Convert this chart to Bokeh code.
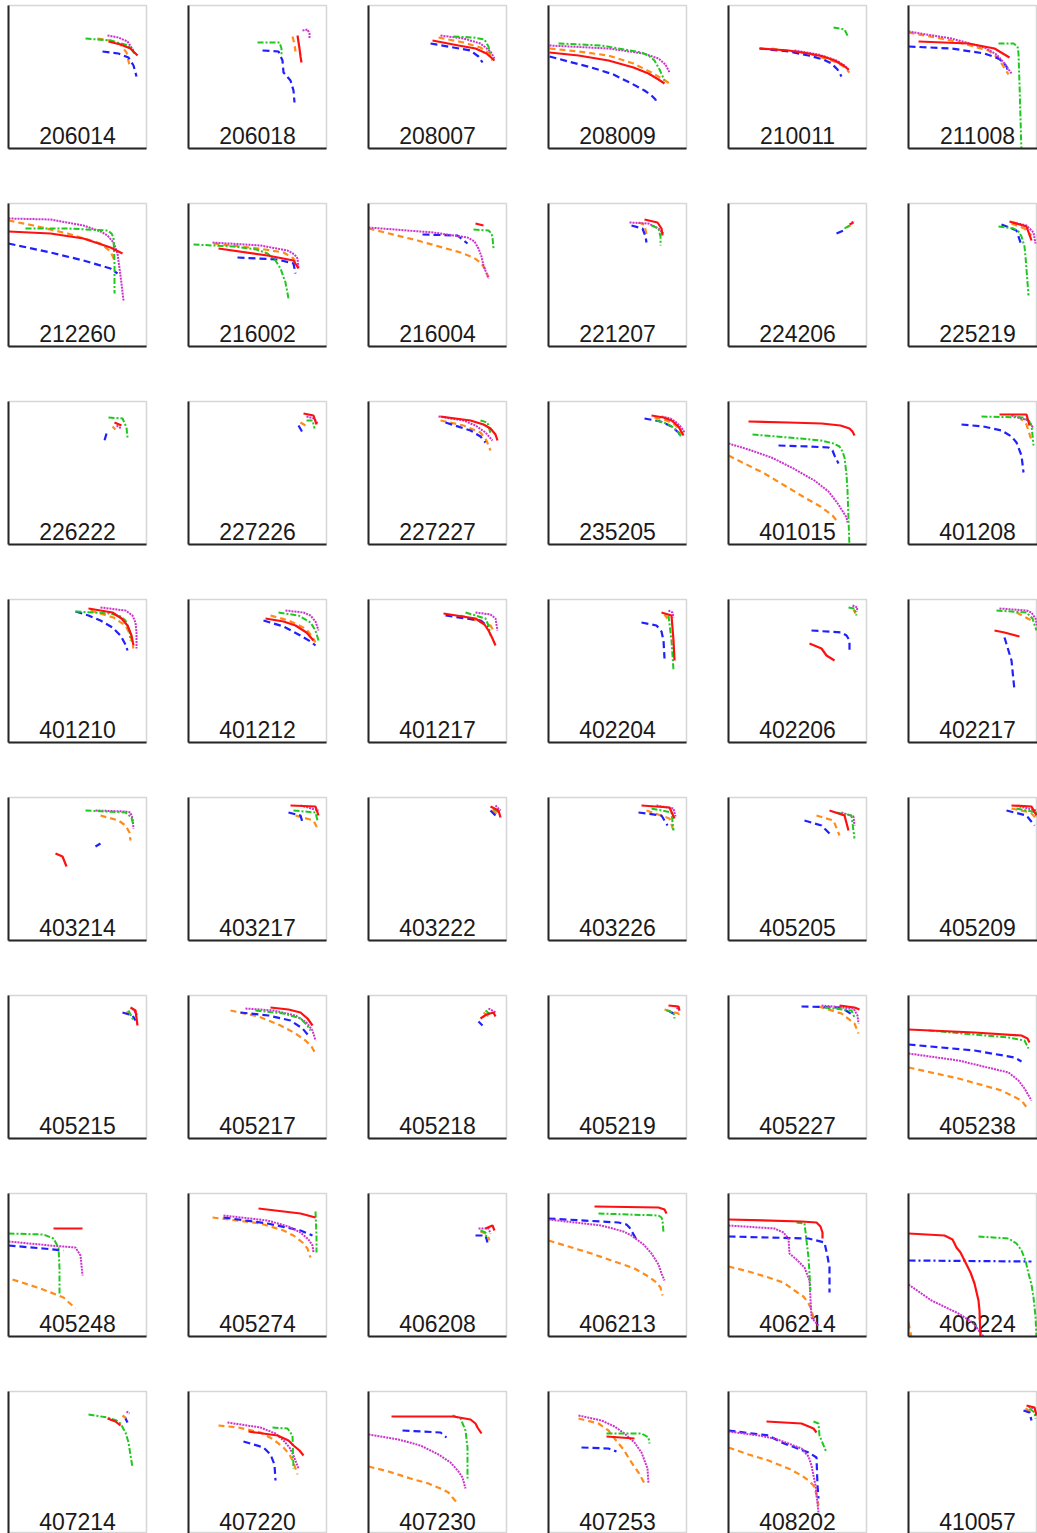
from bokeh.plotting import figure
from bokeh.layouts import gridplot
from bokeh.models import Range1d, LinearAxis, FixedTicker
from bokeh.embed import file_html
from bokeh.resources import INLINE
from bokeh.core.properties import value

PANELS = [
    "206014", "206018", "208007", "208009", "210011", "211008",
    "212260", "216002", "216004", "221207", "224206", "225219",
    "226222", "227226", "227227", "235205", "401015", "401208",
    "401210", "401212", "401217", "402204", "402206", "402217",
    "403214", "403217", "403222", "403226", "405205", "405209",
    "405215", "405217", "405218", "405219", "405227", "405238",
    "405248", "405274", "406208", "406213", "406214", "406224",
    "407214", "407220", "407230", "407253", "408202", "410057",
]

RED = {
    "206014": ([100, 112, 122, 129], [107, 104, 100, 93]),
    "206018": ([109, 111, 112, 113], [113, 100, 92, 86]),
    "208007": ([64, 90, 107, 118, 126], [108, 103, 100, 95, 88]),
    "208009": ([1, 30, 60, 85, 100, 110, 116], [96, 93, 88, 81, 75, 69, 65]),
    "210011": ([31, 60, 80, 95, 106, 115, 120], [100, 98, 95, 92, 88, 83, 79]),
    "211008": ([10, 60, 86, 101], [107, 105, 100, 91]),
    "212260": ([0, 42, 75, 102, 114], [115, 113, 108, 99, 93]),
    "216002": ([30, 79, 105, 110], [98, 91, 86, 78]),
    "216004": ([107, 115], [123, 121]),
    "221207": ([96, 109, 113, 114], [127, 124, 118, 111]),
    "224206": ([121, 125], [122, 124]),
    "225219": ([101, 118, 123], [125, 120, 106]),
    "226222": ([106, 113], [122, 119]),
    "227226": ([115, 125, 128], [131, 129, 120]),
    "227227": ([72, 102, 115, 122, 127, 129], [128, 124, 120, 116, 110, 104]),
    "235205": ([103, 115, 123, 130, 135], [129, 127, 124, 118, 109]),
    "401015": ([20, 60, 93, 112, 121, 124, 126], [123, 122, 121, 119, 116, 113, 109]),
    "401208": ([91, 118, 121], [130, 130, 119]),
    "401210": ([80, 104, 113, 119, 123, 125], [134, 130, 124, 117, 107, 97]),
    "401212": ([77, 95, 107, 118, 125], [124, 121, 117, 110, 102]),
    "401217": ([75, 107, 116, 120, 124, 127], [129, 124, 118, 112, 104, 97]),
    "402204": ([113, 123, 125, 126], [130, 127, 102, 82]),
    "402206": ([81, 93, 98, 106], [99, 94, 87, 82]),
    "402217": ([86, 96, 111], [112, 110, 106]),
    "403214": ([47, 54, 58], [87, 84, 74]),
    "403217": ([102, 127, 130], [135, 134, 125]),
    "403222": ([122, 130, 132], [134, 130, 123]),
    "403226": ([93, 121, 126], [135, 133, 122]),
    "405205": ([101, 116, 120], [130, 125, 110]),
    "405209": ([103, 123, 128], [135, 134, 125]),
    "405215": ([122, 127, 129], [131, 128, 113]),
    "405217": ([82, 100, 112, 119, 124], [131, 129, 126, 120, 113]),
    "405218": ([112, 118, 125, 127], [120, 124, 126, 122]),
    "405219": ([120, 130, 131], [133, 132, 128]),
    "405227": ([111, 126, 131], [133, 131, 129]),
    "405238": ([0, 66, 113, 119, 121], [109, 106, 103, 100, 96]),
    "405248": ([45, 74], [108, 108]),
    "405274": ([70, 112, 127], [128, 123, 119]),
    "406208": ([117, 124, 126], [108, 111, 106]),
    "406213": ([46, 110, 116, 118], [130, 129, 127, 123]),
    "406214": ([0, 73, 88, 92, 94, 94], [117, 115, 114, 110, 104, 98]),
    "406224": ([0, 36, 44, 48, 52, 56, 62, 66, 70, 71, 72], [103, 101, 97, 89, 84, 76, 64, 53, 36, 26, -1]),
    "407214": ([99, 107, 112], [116, 113, 109]),
    "407220": ([60, 89, 100, 105, 111, 115], [103, 99, 94, 89, 84, 79]),
    "407230": ([23, 85, 102, 107, 109, 113], [118, 118, 115, 111, 107, 101]),
    "407253": ([58, 86], [98, 96]),
    "408202": ([38, 73, 85, 88], [113, 111, 106, 102]),
    "410057": ([118, 126, 128], [129, 127, 119]),
}

BLUE = {
    "206014": ([94, 110, 120, 125, 128], [97, 95, 91, 83, 72]),
    "206018": ([74, 90, 94, 95, 102, 105, 106], [98, 97, 88, 76, 68, 58, 46]),
    "208007": ([62, 85, 102, 110, 114], [105, 101, 98, 92, 86]),
    "208009": ([1, 20, 43, 65, 83, 96, 103, 107, 108], [92, 87, 81, 74, 65, 58, 53, 49, 45]),
    "210011": ([31, 60, 80, 95, 103, 109, 113], [100, 97, 93, 89, 85, 79, 72]),
    "211008": ([0, 43, 76, 90, 95, 98, 100], [102, 100, 95, 90, 86, 82, 76]),
    "212260": ([0, 42, 75, 102, 109], [103, 94, 86, 78, 73]),
    "216002": ([49, 89, 105, 107], [89, 87, 83, 73]),
    "216004": ([54, 89, 99], [112, 111, 103]),
    "221207": ([83, 94, 97, 98], [121, 118, 110, 104]),
    "224206": ([108, 115], [113, 116]),
    "225219": ([93, 108, 113], [122, 116, 101]),
    "226222": ([98, 96], [111, 104]),
    "227226": ([110, 114], [119, 112]),
    "227227": ([77, 102, 112, 117], [122, 114, 108, 102]),
    "235205": ([96, 112, 123, 130, 133], [126, 123, 118, 112, 107]),
    "401015": ([50, 80, 100, 104, 106, 110], [99, 98, 97, 94, 89, 81]),
    "401208": ([53, 75, 93, 103, 108, 113, 115], [120, 118, 114, 108, 102, 89, 72]),
    "401210": ([67, 80, 92, 104, 112, 117, 119], [131, 127, 122, 115, 107, 98, 92]),
    "401212": ([75, 95, 112, 122, 127], [122, 116, 107, 101, 97]),
    "401217": ([77, 112, 120], [127, 122, 116]),
    "402204": ([93, 108, 113, 115, 116], [120, 117, 111, 102, 84]),
    "402206": ([83, 113, 118, 121, 121], [112, 110, 107, 102, 92]),
    "402217": ([96, 103, 106], [105, 82, 52]),
    "403214": ([87, 92], [94, 97]),
    "403217": ([100, 112, 114], [128, 125, 118]),
    "403222": ([122, 127], [130, 125]),
    "403226": ([90, 113, 119], [128, 125, 115]),
    "405205": ([76, 93, 103], [120, 115, 105]),
    "405209": ([98, 118, 126], [130, 125, 115]),
    "405215": ([114, 124, 127], [126, 123, 118]),
    "405217": ([52, 80, 102, 114, 120], [126, 123, 118, 110, 103]),
    "405218": ([110, 114], [117, 113]),
    "405219": ([121, 125], [127, 125]),
    "405227": ([73, 113, 125], [132, 131, 123]),
    "405238": ([0, 66, 106, 113], [94, 88, 81, 77]),
    "405248": ([0, 35, 55], [91, 88, 86]),
    "405274": ([35, 79, 112, 124], [119, 113, 106, 101]),
    "406208": ([107, 117, 119], [101, 101, 94]),
    "406213": ([0, 70, 78, 81, 88], [118, 114, 112, 109, 97]),
    "406214": ([0, 80, 96, 99, 101, 101], [100, 98, 94, 80, 69, 44]),
    "406224": ([0, 123], [76, 75]),
    "407214": ([117, 119], [116, 112]),
    "407220": ([55, 75, 82, 86, 87], [93, 87, 80, 70, 54]),
    "407230": ([34, 72, 78], [104, 102, 97]),
    "407253": ([33, 60, 68], [87, 86, 83]),
    "408202": ([0, 40, 53, 80, 88, 89, 90], [104, 99, 92, 82, 77, 49, 36]),
    "410057": ([115, 121, 123], [124, 122, 114]),
}

GREEN = {
    "206014": ([77, 102, 120, 126], [110, 108, 103, 95]),
    "206018": ([69, 91, 93, 93], [106, 106, 100, 93]),
    "208007": ([85, 105, 116, 120, 122], [112, 111, 109, 102, 93]),
    "208009": ([10, 53, 93, 100, 106, 111, 116], [105, 103, 96, 93, 88, 79, 68]),
    "210011": ([105, 116, 120], [121, 119, 111]),
    "211008": ([90, 105, 109, 110, 111, 113], [105, 105, 102, 95, 65, -5]),
    "212260": ([17, 59, 99, 103, 105, 106, 106], [118, 118, 116, 113, 109, 84, 53]),
    "216002": ([5, 45, 68, 79, 87, 92, 97, 100], [102, 100, 97, 93, 86, 78, 64, 48]),
    "216004": ([105, 120, 123, 124, 125], [117, 116, 113, 109, 98]),
    "221207": ([103, 110, 112, 112], [121, 118, 110, 101]),
    "224206": ([116, 121], [118, 121]),
    "225219": ([90, 105, 110, 113, 116, 117, 120], [120, 118, 115, 110, 100, 90, 51]),
    "226222": ([100, 114, 118, 119], [127, 126, 117, 107]),
    "227226": ([118, 124, 126], [124, 124, 116]),
    "227227": ([112, 119, 122], [124, 122, 111]),
    "235205": ([108, 118, 125, 130, 133], [124, 121, 117, 112, 107]),
    "401015": ([24, 60, 93, 105, 111, 114, 116, 118, 119, 121], [110, 107, 104, 101, 98, 93, 87, 70, 54, -3]),
    "401208": ([73, 115, 120, 123, 125], [128, 127, 124, 119, 99]),
    "401210": ([67, 102, 112, 117, 121, 122], [131, 129, 126, 122, 112, 102]),
    "401212": ([90, 110, 122, 127, 130], [130, 127, 120, 112, 102]),
    "401217": ([97, 117, 120, 122], [130, 124, 117, 107]),
    "402204": ([120, 123, 125], [127, 102, 72]),
    "402206": ([120, 126, 128], [135, 134, 127]),
    "402217": ([88, 118, 124, 128], [132, 130, 124, 112]),
    "403214": ([77, 117, 123, 125], [130, 128, 123, 115]),
    "403217": ([105, 127, 129], [130, 128, 120]),
    "403222": ([125, 130], [132, 128]),
    "403226": ([103, 123, 125], [132, 128, 110]),
    "405205": ([108, 123, 126], [128, 125, 102]),
    "405209": ([108, 128, 131], [132, 128, 118]),
    "405215": ([120, 125], [128, 118]),
    "405217": ([67, 95, 112, 118, 122], [128, 125, 120, 114, 108]),
    "405218": ([117, 122], [128, 124]),
    "405219": ([118, 125, 126], [128, 126, 120]),
    "405227": ([96, 123, 126], [131, 128, 121]),
    "405238": ([20, 100, 116, 120], [108, 101, 98, 90]),
    "405248": ([0, 35, 45, 50, 51, 51], [103, 102, 98, 89, 68, 43]),
    "405274": ([127, 128, 128], [125, 100, 84]),
    "406208": ([112, 117, 118], [106, 104, 99]),
    "406213": ([50, 110, 113, 114, 115], [123, 121, 119, 116, 104]),
    "406214": ([68, 76, 80, 82], [114, 113, 79, 46]),
    "406224": ([70, 100, 108, 113, 117, 120, 123, 125, 127, 128], [100, 98, 93, 86, 76, 63, 52, 39, 20, -1]),
    "407214": ([80, 99, 108, 112, 117, 120, 124], [120, 117, 114, 111, 102, 92, 67]),
    "407220": ([84, 99, 104, 105], [107, 106, 99, 66]),
    "407230": ([84, 92, 97, 99, 99], [119, 116, 104, 87, 56]),
    "407253": ([58, 93, 100, 101], [101, 101, 97, 91]),
    "408202": ([85, 90, 91, 98], [113, 111, 99, 82]),
    "410057": ([121, 126, 127], [126, 122, 116]),
}

MAGENTA = {
    "206014": ([99, 110, 119, 125], [113, 111, 107, 98]),
    "206018": ([114, 119, 121, 121], [118, 119, 115, 110]),
    "208007": ([72, 95, 112, 122, 126], [113, 110, 105, 97, 90]),
    "208009": ([1, 60, 95, 110, 117, 121], [103, 100, 95, 90, 84, 76]),
    "210011": ([66, 90, 108, 116, 121], [98, 94, 88, 83, 78]),
    "211008": ([0, 43, 76, 88, 96, 103], [117, 110, 101, 94, 85, 75]),
    "212260": ([0, 42, 75, 92, 99, 105, 109, 112, 115], [128, 127, 121, 115, 111, 104, 93, 71, 46]),
    "216002": ([24, 72, 99, 106, 109, 110], [104, 101, 96, 92, 88, 78]),
    "216004": ([0, 65, 99, 106, 110, 113, 115, 120], [119, 114, 109, 105, 98, 90, 81, 68]),
    "221207": ([81, 100, 110, 115], [124, 123, 118, 113]),
    "224206": ([123, 126], [124, 125]),
    "225219": ([105, 118, 125, 127], [124, 121, 114, 103]),
    "226222": ([108, 113], [119, 116]),
    "227226": ([118, 126, 129], [128, 126, 121]),
    "227227": ([70, 95, 107, 117, 124], [128, 124, 119, 112, 104]),
    "235205": ([113, 122, 128, 133, 136], [128, 126, 122, 117, 112]),
    "401015": ([0, 20, 43, 65, 86, 100, 110, 118, 119], [101, 95, 87, 76, 64, 53, 40, 27, 22]),
    "401208": ([103, 120, 125], [129, 124, 116]),
    "401210": ([92, 117, 124, 127, 128, 128], [135, 132, 127, 120, 110, 94]),
    "401212": ([97, 115, 122, 127, 130], [132, 130, 127, 121, 112]),
    "401217": ([107, 122, 127, 129], [130, 128, 124, 112]),
    "402204": ([120, 124, 125], [132, 130, 125]),
    "402206": ([124, 129, 128], [137, 135, 131]),
    "402217": ([91, 118, 123, 127, 130], [134, 132, 130, 124, 112]),
    "403214": ([87, 117, 122, 124, 125], [130, 129, 128, 122, 112]),
    "403217": ([112, 130], [135, 130]),
    "403222": ([127, 132], [135, 130]),
    "403226": ([108, 125, 127], [135, 132, 124]),
    "405205": ([113, 125, 126], [128, 124, 115]),
    "405209": ([111, 128], [134, 130]),
    "405215": ([124, 129], [130, 123]),
    "405217": ([57, 85, 107, 118, 124, 127], [130, 128, 123, 116, 108, 98]),
    "405218": ([120, 127], [130, 126]),
    "405219": ([126, 131], [133, 128]),
    "405227": ([93, 125, 129, 130], [133, 130, 123, 115]),
    "405238": ([0, 50, 100, 110, 116, 123], [85, 78, 66, 58, 50, 38]),
    "405248": ([0, 42, 67, 72, 74], [95, 91, 89, 81, 61]),
    "405274": ([35, 79, 100, 112, 120, 124, 125], [121, 116, 110, 104, 97, 91, 84]),
    "406208": ([110, 120, 122], [108, 108, 103]),
    "406213": ([0, 53, 75, 83, 95, 103, 110, 113, 116], [117, 111, 105, 101, 92, 83, 72, 63, 56]),
    "406214": ([0, 46, 55, 60, 61, 68, 76, 81, 83, 90], [111, 108, 104, 98, 83, 77, 69, 56, 19, 11]),
    "406224": ([0, 23, 50, 64, 76], [52, 36, 23, 14, -1]),
    "407214": ([118, 121], [123, 121]),
    "407220": ([39, 72, 87, 95, 101, 105, 110], [112, 107, 101, 94, 87, 79, 66]),
    "407230": ([0, 30, 52, 70, 82, 90, 94, 97], [100, 95, 89, 80, 72, 63, 57, 46]),
    "407253": ([30, 53, 66, 76, 86, 93, 99, 100], [119, 114, 108, 101, 92, 82, 66, 51]),
    "408202": ([0, 30, 46, 60, 73, 80, 83, 87, 90], [103, 99, 96, 91, 86, 78, 69, 49, 22]),
    "410057": ([120, 125], [128, 126]),
}

ORANGE = {
    "206014": ([89, 102, 112, 118, 121], [110, 108, 104, 96, 83]),
    "206018": ([104, 106, 107], [112, 104, 97]),
    "208007": ([70, 95, 112, 121, 124], [111, 106, 101, 95, 88]),
    "208009": ([1, 30, 60, 85, 103, 115, 121], [100, 97, 93, 85, 76, 69, 65]),
    "210011": ([43, 80, 106, 115, 121], [100, 95, 87, 82, 76]),
    "211008": ([0, 43, 80, 88, 93, 100], [116, 108, 98, 92, 85, 74]),
    "212260": ([0, 25, 59, 92, 102, 107], [126, 121, 113, 103, 95, 84]),
    "216002": ([25, 70, 95, 105, 110], [103, 98, 94, 88, 79]),
    "216004": ([0, 49, 92, 105, 112, 117, 120], [118, 106, 94, 89, 84, 77, 69]),
    "221207": ([90, 96, 98], [124, 122, 112]),
    "224206": ([118, 122], [119, 121]),
    "225219": ([103, 116, 123], [123, 118, 111]),
    "226222": ([104, 107], [118, 115]),
    "227226": ([112, 117], [122, 119]),
    "227227": ([72, 95, 112, 118, 122], [124, 119, 112, 104, 94]),
    "235205": ([106, 118, 126, 131, 134], [127, 124, 120, 115, 110]),
    "401015": ([0, 18, 36, 56, 76, 92, 104, 108], [89, 80, 71, 59, 47, 38, 29, 24]),
    "401208": ([110, 118, 123], [128, 120, 104]),
    "401210": ([82, 105, 117, 122, 125], [132, 125, 117, 107, 94]),
    "401212": ([82, 100, 117, 123, 127], [127, 122, 114, 107, 100]),
    "401217": ([92, 122, 126], [127, 117, 110]),
    "402204": ([116, 119], [128, 124]),
    "402206": ([125, 127], [133, 129]),
    "402217": ([108, 123], [130, 122]),
    "403214": ([92, 110, 117, 121, 122], [125, 120, 115, 108, 100]),
    "403217": ([107, 125, 129], [125, 120, 112]),
    "403222": ([124, 130], [131, 124]),
    "403226": ([98, 121, 125], [130, 122, 110]),
    "405205": ([88, 105, 111], [125, 120, 105]),
    "405209": ([103, 122, 130], [132, 128, 120]),
    "405215": ([118, 126], [127, 120]),
    "405217": ([42, 70, 92, 107, 117, 123, 127], [128, 122, 113, 105, 98, 92, 85]),
    "405218": ([115, 120], [126, 122]),
    "405219": ([116, 130, 130], [129, 125, 121]),
    "405227": ([90, 113, 126, 130], [132, 125, 115, 105]),
    "405238": ([0, 50, 93, 113, 119], [71, 60, 48, 38, 30]),
    "405248": ([4, 32, 55, 67], [57, 48, 39, 28]),
    "405274": ([24, 72, 95, 105, 114, 119, 122], [119, 113, 106, 101, 94, 88, 79]),
    "406208": ([112, 119, 121], [105, 102, 96]),
    "406213": ([0, 43, 86, 100, 108, 112, 114], [96, 83, 68, 60, 54, 49, 41]),
    "406214": ([0, 20, 40, 55, 66, 75, 80, 83, 85], [70, 65, 59, 54, 46, 40, 33, 27, 18]),
    "406224": ([0, 3], [14, -1]),
    "407214": ([114, 118], [119, 116]),
    "407220": ([30, 50, 72, 85, 95, 101, 105, 109], [109, 107, 102, 95, 87, 80, 72, 60]),
    "407230": ([0, 20, 42, 60, 72, 80, 84, 89], [68, 63, 56, 51, 46, 42, 37, 31]),
    "407253": ([30, 50, 60, 66, 75, 83, 90, 96], [116, 111, 104, 96, 85, 72, 62, 51]),
    "408202": ([0, 20, 40, 60, 73, 80, 85, 88, 90], [87, 80, 74, 66, 59, 54, 49, 40, 29]),
    "410057": ([117, 124], [126, 121]),
}

# panels whose blue series is drawn dash-dot in the original
BLUE_DASHDOT = {"406224"}

# data extent of every panel
X_MAX = 138
Y_MAX = 143
N_COLS = 6

SERIES = [
    ("orange", ORANGE, dict(line_color="#ff8c1a", line_width=2.2, line_dash="6 4")),
    ("blue", BLUE, dict(line_color="#1f1fff", line_width=2.2, line_dash="7 4")),
    ("magenta", MAGENTA, dict(line_color="#cc33cc", line_width=2.0, line_dash="2 1")),
    ("green", GREEN, dict(line_color="#1ec81e", line_width=2.0, line_dash="6 2 2 2")),
    ("red", RED, dict(line_color="#ff1010", line_width=2.2)),
]


def edge_axis():
    return LinearAxis(ticker=FixedTicker(ticks=[]),
                      major_label_text_font_size="0px",
                      major_tick_line_color=None, minor_tick_line_color=None,
                      major_tick_out=0, major_tick_in=0, major_label_standoff=0,
                      axis_line_color="#262626", axis_line_width=2)


rows = []
n_rows = len(PANELS) // N_COLS
for r in range(n_rows):
    row = []
    for c in range(N_COLS):
        pid = PANELS[r * N_COLS + c]
        last_col = c == N_COLS - 1
        last_row = r == n_rows - 1
        w = 137 if last_col else 180
        h = 147 if last_row else 198
        br = 0 if last_col else 34
        bb = 0 if last_row else 50
        fw = w - 8 - br
        fh = h - 5 - bb
        p = figure(width=w, height=h,
                   x_range=Range1d(0, X_MAX * fw / 138),
                   y_range=Range1d(Y_MAX - Y_MAX * fh / 143, Y_MAX),
                   x_axis_location=None, y_axis_location=None,
                   output_backend="svg", toolbar_location=None, tools="",
                   min_border_left=8, min_border_right=br,
                   min_border_top=5, min_border_bottom=bb)
        p.xgrid.visible = False
        p.ygrid.visible = False
        p.background_fill_color = "white"
        p.border_fill_color = "white"
        p.outline_line_color = "#d6d6d6"
        p.outline_line_width = 1.5
        p.add_layout(edge_axis(), "left")
        if not last_row:
            p.add_layout(edge_axis(), "below")
        p.text(x=[X_MAX / 2], y=[13.5], text=[pid], text_align="center",
               text_baseline="middle", text_font=value("Liberation Sans"),
               text_font_size="23px", text_color="#1a1a1a")
        for name, data, style in SERIES:
            if pid in data:
                xs, ys = data[pid]
                st = dict(style)
                if name == "blue" and pid in BLUE_DASHDOT:
                    st["line_dash"] = "7 3 2 3"
                p.line(xs, ys, **st)
        row.append(p)
    rows.append(row)

grid = gridplot(rows, toolbar_location=None)
open("out.html", "w").write(file_html(grid, INLINE))
